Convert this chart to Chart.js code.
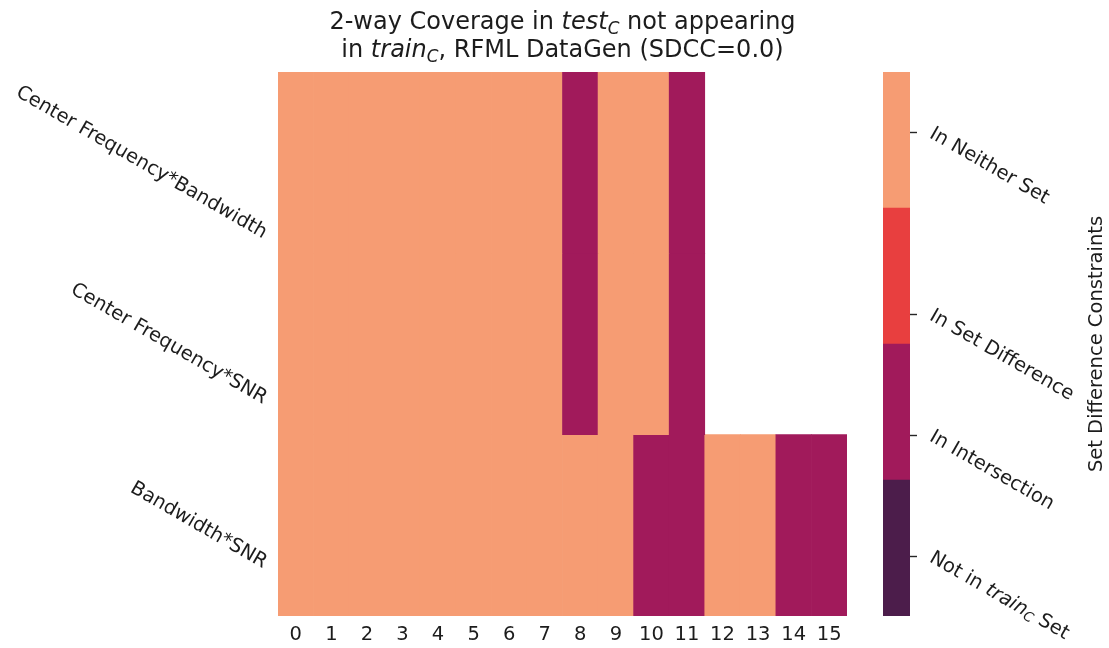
<!DOCTYPE html>
<html>
<head>
<meta charset="utf-8">
<script src="https://cdn.jsdelivr.net/npm/chart.js@4.4.1/dist/chart.umd.min.js"></script>
<style>
  html, body { margin: 0; padding: 0; background: #fff; }
  #wrap { position: relative; width: 1109px; height: 648px; overflow: hidden; }
  #wrap canvas { position: absolute; top: 0; }
  #heat { left: 0; }
  #cbar { left: 860px; }
</style>
</head>
<body>
<div id="wrap">
  <canvas id="heat" width="1109" height="648"></canvas>
  <canvas id="cbar" width="249" height="648"></canvas>
</div>
<script>
// Column indices along the x axis
const columns = ['0','1','2','3','4','5','6','7','8','9','10','11','12','13','14','15'];
// Parameter pairs, top to bottom
const rowLabels = ['Center Frequency*Bandwidth', 'Center Frequency*SNR', 'Bandwidth*SNR'];
// Cell levels: 0 = not in train, 1 = intersection, 2 = set difference, 3 = neither; null = no value
const rowCenterFreqBandwidth = [3,3,3,3,3,3,3,3,1,3,3,1,null,null,null,null];
const rowCenterFreqSNR       = [3,3,3,3,3,3,3,3,1,3,3,1,null,null,null,null];
const rowBandwidthSNR        = [3,3,3,3,3,3,3,3,3,3,1,1,3,3,1,1];
// Colour levels (bottom to top of the colour bar)
const levelNames  = ['Not in $train_C$ Set', 'In Intersection', 'In Set Difference', 'In Neither Set'];
const levelColors = ['#4c1d4b', '#a11a5b', '#e83f3f', '#f69c73'];
const colorbarRange = [0, 3];
const colorbarTicks = [1/3, 1, 5/3, 8/3];
const titleLines = ['2-way Coverage in $test_C$ not appearing', 'in $train_C$, RFML DataGen (SDCC=0.0)'];
const colorbarTitle = 'Set Difference Constraints';

const FONT = '"DejaVu Sans", sans-serif';
const TEXT = '#1c1c1c';
const TICK_SIZE = 19.5;
const TITLE_SIZE = 24;

// Minimal $word_X$ markup: italic word with italic subscript
function parseRich(str) {
  const segs = [];
  str.split('$').forEach((part, i) => {
    if (!part) return;
    if (i % 2 === 0) { segs.push({ t: part }); return; }
    const m = part.split('_');
    segs.push({ t: m[0], it: true });
    if (m[1]) segs.push({ t: m[1], it: true, sub: true });
  });
  return segs;
}
function segFont(s, size) {
  return (s.it ? 'italic ' : '') + (s.sub ? size * 0.7 : size).toFixed(2) + 'px ' + FONT;
}
function richWidth(ctx, segs, size) {
  let w = 0;
  segs.forEach(s => { ctx.font = segFont(s, size); w += ctx.measureText(s.t).width; });
  return w;
}
function drawRich(ctx, segs, x, y, size) {
  segs.forEach(s => {
    ctx.font = segFont(s, size);
    ctx.fillText(s.t, x, y + (s.sub ? size * 0.22 : 0));
    x += ctx.measureText(s.t).width;
  });
}
// Rotated label whose bounding box right edge and vertical centre sit on the anchor
function drawRotatedBox(ctx, text, ax, ay, size, deg) {
  const segs = parseRich(text);
  const w = richWidth(ctx, segs, size);
  const h = size * 1.17;
  const a = deg * Math.PI / 180;
  const bw = Math.abs(w * Math.cos(a)) + Math.abs(h * Math.sin(a));
  ctx.save();
  ctx.translate(ax - bw / 2, ay);
  ctx.rotate(a);
  ctx.textAlign = 'left';
  ctx.textBaseline = 'middle';
  ctx.fillStyle = TEXT;
  drawRich(ctx, segs, -w / 2, 0, size);
  ctx.restore();
}
// Rotated label turning about its own left-middle point
function drawRotatedAnchor(ctx, text, ax, ay, size, deg) {
  const segs = parseRich(text);
  ctx.save();
  ctx.translate(ax, ay);
  ctx.rotate(deg * Math.PI / 180);
  ctx.textAlign = 'left';
  ctx.textBaseline = 'middle';
  ctx.fillStyle = TEXT;
  drawRich(ctx, segs, 0, 0, size);
  ctx.restore();
}

const heatRows = [rowCenterFreqBandwidth, rowCenterFreqSNR, rowBandwidthSNR];

const heatDecor = {
  id: 'heatDecor',
  afterDraw(chart) {
    const ctx = chart.ctx;
    const area = chart.chartArea;
    const y = chart.scales.y;
    // row labels
    rowLabels.forEach((lab, r) => {
      drawRotatedBox(ctx, lab, area.left - 7, y.getPixelForValue(r + 0.5), TICK_SIZE, 30);
    });
    // two-line title
    ctx.save();
    ctx.fillStyle = TEXT;
    ctx.textBaseline = 'alphabetic';
    const cx = (area.left + area.right) / 2;
    titleLines.forEach((line, i) => {
      const segs = parseRich(line);
      const w = richWidth(ctx, segs, TITLE_SIZE);
      drawRich(ctx, segs, cx - w / 2, 29 + i * 28, TITLE_SIZE);
    });
    ctx.restore();
  }
};

new Chart(document.getElementById('heat'), {
  type: 'bar',
  data: {
    labels: columns,
    datasets: heatRows.map((vals, r) => ({
      label: rowLabels[r],
      data: vals.map(v => v === null ? null : [r, r + 1]),
      backgroundColor: vals.map(v => v === null ? 'rgba(0,0,0,0)' : levelColors[v]),
      borderWidth: 0,
      grouped: false,
      barPercentage: 1,
      categoryPercentage: 1
    }))
  },
  options: {
    responsive: false,
    animation: false,
    layout: { padding: { left: 278, right: 262, top: 72, bottom: 0 } },
    plugins: { legend: { display: false }, tooltip: { enabled: false }, title: { display: false } },
    scales: {
      x: {
        grid: { display: false, drawTicks: false },
        border: { display: false },
        ticks: { color: TEXT, font: { family: FONT, size: TICK_SIZE }, padding: 7, maxRotation: 0, minRotation: 0, autoSkip: false },
        afterFit(scale) { scale.height = 32; }
      },
      y: { type: 'linear', min: 0, max: heatRows.length, reverse: true, display: false }
    }
  },
  plugins: [heatDecor]
});

// Colour bar
const cbStep = (colorbarRange[1] - colorbarRange[0]) / levelColors.length;
const cbarDecor = {
  id: 'cbarDecor',
  afterDraw(chart) {
    const ctx = chart.ctx;
    const area = chart.chartArea;
    const y = chart.scales.y;
    ctx.save();
    ctx.strokeStyle = '#262626';
    ctx.lineWidth = 1.4;
    colorbarTicks.forEach((t, i) => {
      const py = Math.round(y.getPixelForValue(t)) + 0.5;
      ctx.beginPath();
      ctx.moveTo(area.right, py);
      ctx.lineTo(area.right + 7, py);
      ctx.stroke();
      drawRotatedAnchor(ctx, levelNames[i], area.right + 21, py, TICK_SIZE, 30);
    });
    ctx.translate(237, (area.top + area.bottom) / 2);
    ctx.rotate(-Math.PI / 2);
    ctx.fillStyle = TEXT;
    ctx.font = TICK_SIZE + 'px ' + FONT;
    ctx.textAlign = 'center';
    ctx.textBaseline = 'middle';
    ctx.fillText(colorbarTitle, 0, 0);
    ctx.restore();
  }
};

new Chart(document.getElementById('cbar'), {
  type: 'bar',
  data: {
    labels: [''],
    datasets: levelColors.map((c, i) => ({
      label: levelNames[i],
      data: [[colorbarRange[0] + i * cbStep, colorbarRange[0] + (i + 1) * cbStep]],
      backgroundColor: c,
      borderWidth: 0,
      grouped: false,
      barPercentage: 1,
      categoryPercentage: 1
    }))
  },
  options: {
    responsive: false,
    animation: false,
    layout: { padding: { left: 23, right: 199, top: 72, bottom: 32 } },
    plugins: { legend: { display: false }, tooltip: { enabled: false } },
    scales: {
      x: { display: false },
      y: { type: 'linear', min: colorbarRange[0], max: colorbarRange[1], display: false }
    }
  },
  plugins: [cbarDecor]
});
</script>
</body>
</html>
